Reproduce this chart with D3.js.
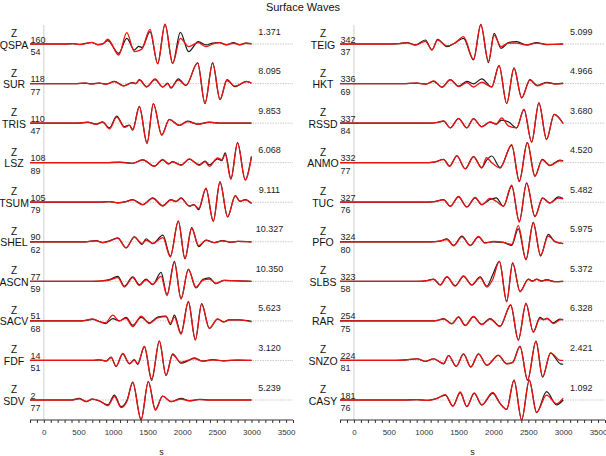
<!DOCTYPE html>
<html><head><meta charset="utf-8">
<script src="https://cdn.jsdelivr.net/npm/d3@7"></script>
<style>body{margin:0;background:#fff} svg{display:block} text{font-family:"Liberation Sans",Arial,Helvetica,sans-serif}</style>
</head><body><svg id="c" width="606" height="456"></svg>
<script>
// ---------- labels ----------
const title = "Surface Waves";
const component = "Z";
const leftStations  = ["QSPA","SUR","TRIS","LSZ","TSUM","SHEL","ASCN","SACV","FDF","SDV"];
const leftTop       = ["160","118","110","108","105","90","77","51","14","2"];
const leftBottom    = ["54","77","47","89","79","62","59","68","51","77"];
const leftRatio     = ["1.371","8.095","9.853","6.068","9.111","10.327","10.350","5.623","3.120","5.239"];
const rightStations = ["TEIG","HKT","RSSD","ANMO","TUC","PFO","SLBS","RAR","SNZO","CASY"];
const rightTop      = ["342","336","337","332","327","324","323","254","224","181"];
const rightBottom   = ["37","69","84","77","76","80","58","75","81","76"];
const rightRatio    = ["5.099","4.966","3.680","4.520","5.482","5.975","5.372","6.328","2.421","1.092"];
const xTickLabels   = [0,500,1000,1500,2000,2500,3000,3500];
const xAxisTitle    = "s";

// ---------- waveform extrema (time s, normalised amplitude) ----------
const QSPA_t     = [-200,300,420,520,600,690,780,860,924,1082,1198,1308,1370,1420,1534,1645,1751,1861,1972,2092,2232,2342,2440,2535,2640,2740,2830,2920,3000];
const QSPA_black = [0,0,0.02,-0.02,0.03,0.08,-0.03,0.03,0.18,-0.49,0.30,-0.32,-0.12,-0.18,0.65,-1.02,1.04,-1.02,0.61,-0.40,0.12,-0.05,0.05,0.07,-0.05,0.07,-0.05,0.05,0.02];
const QSPA_red   = [0,0,0.02,-0.03,0.02,0.09,-0.04,0.02,0.25,-0.58,0.60,-0.40,-0.35,-0.25,0.77,-1.05,1.04,-1.02,0.30,-0.14,0.07,-0.14,0.0,0.07,-0.03,0.04,-0.03,0.04,0.01];

const SUR_t     = [-200,450,600,700,800,900,1020,1150,1275,1330,1380,1486,1607,1717,1790,1837,1943,2054,2222,2328,2439,2545,2646,2760,2929,3000];
const SUR_black = [0,0,0.02,-0.02,0.03,-0.03,0.12,-0.12,0.05,0.0,0.21,-0.16,0.21,-0.18,0.02,-0.24,0.25,-0.10,1.09,-1.05,1.09,-0.84,0.21,-0.16,0.12,0.02];
const SUR_red   = [0,0,0.02,-0.02,0.02,-0.03,0.10,-0.12,0.04,0.0,0.18,-0.18,0.24,-0.18,0.0,-0.20,0.18,-0.10,1.09,-1.05,1.09,-0.84,0.16,-0.14,0.10,0.03];

const TRIS_t     = [-200,500,635,755,850,948,1053,1164,1236,1284,1380,1491,1582,1703,1813,1958,2078,2222,2391,2535,3000];
const TRIS_black = [0,0,0.05,-0.05,0.05,-0.25,0.37,-0.19,-0.10,-0.33,0.88,-1.04,1.02,-0.61,0.19,-0.12,0.10,-0.05,0.05,0,0];
const TRIS_red   = [0,0,0.04,-0.06,0.06,-0.30,0.32,-0.22,-0.12,-0.38,0.86,-1.08,1.02,-0.64,0.20,-0.12,0.08,-0.06,0.04,0,0];

const LSZ_t     = [-200,900,1100,1284,1429,1597,1717,1800,1861,1982,2102,2246,2330,2391,2511,2570,2621,2703,2799,2910,3000];
const LSZ_black = [0,0,0.03,-0.03,0.15,-0.18,0.15,-0.05,0.05,-0.12,0.18,-0.10,0.08,-0.12,0.20,0.10,0.52,-0.84,1.05,-0.90,0.33];
const LSZ_red   = [0,0,0.02,-0.04,0.16,-0.20,0.17,-0.07,0.04,-0.14,0.20,-0.14,0.06,-0.20,0.25,0.15,0.42,-0.88,1.03,-0.92,0.30];

const TSUM_t     = [-200,800,950,1070,1190,1284,1429,1573,1717,1837,1910,1982,2102,2170,2237,2342,2448,2545,2655,2766,2833,2910,3000];
const TSUM_black = [0,0,0.03,-0.03,0.04,0.14,-0.12,0.23,-0.18,0.14,0.05,0.23,-0.21,-0.12,-0.39,0.72,-1.0,1.07,-0.77,0.35,0.05,0.14,-0.07];
const TSUM_red   = [0,0,0.03,-0.03,0.03,0.12,-0.14,0.20,-0.20,0.12,0.03,0.20,-0.18,-0.14,-0.33,0.74,-1.0,1.07,-0.77,0.33,0.05,0.12,-0.05];

const SHEL_t     = [-200,600,755,850,948,1068,1188,1308,1419,1477,1573,1720,1828,1943,2039,2136,2237,2342,2463,2583,2700,2800,3000];
const SHEL_black = [0,0,0.06,-0.04,0.05,0.21,-0.32,0.26,-0.14,0.16,-0.10,0.35,-0.75,1.09,-0.89,0.74,-0.26,0.09,-0.05,0.06,-0.03,0.02,0];
const SHEL_red   = [0,0,0.05,-0.04,0.04,0.18,-0.32,0.24,-0.10,0.08,-0.08,0.22,-0.80,1.09,-0.89,0.70,-0.20,0.07,-0.04,0.05,-0.02,0.02,0];

const ASCN_t     = [-200,700,850,948,1068,1164,1284,1380,1477,1573,1693,1780,1886,1982,2088,2198,2294,2391,2487,2600,2750,3000];
const ASCN_black = [0,0,0.03,0.09,0.26,-0.26,0.23,-0.18,0.12,-0.18,0.47,-0.70,1.05,-0.91,0.65,-0.35,0.09,0.18,-0.12,0.05,0.03,0];
const ASCN_red   = [0,0,0.02,0.06,0.20,-0.30,0.20,-0.22,0.08,-0.15,0.26,-0.75,1.00,-0.93,0.62,-0.30,0.05,0.12,-0.10,0.05,0.03,0];

const SACV_t     = [-200,550,707,800,890,996,1090,1188,1284,1405,1525,1645,1765,1830,1886,1982,2088,2189,2280,2391,2511,2600,2679,2824,3000];
const SACV_black = [0,0,0.08,-0.03,-0.14,0.12,0.0,0.18,-0.23,0.18,-0.10,0.20,0.25,-0.20,0.30,-0.65,1.0,-1.0,0.91,-0.40,0.10,-0.05,0.05,0.05,-0.03];
const SACV_red   = [0,0,0.10,-0.04,-0.10,0.30,0.0,0.14,-0.30,0.25,-0.14,0.16,0.22,-0.12,0.20,-0.70,1.02,-1.0,0.88,-0.38,0.10,-0.05,0.06,0.05,-0.05];

const FDF_t     = [-200,700,800,900,972,1044,1140,1236,1308,1356,1453,1558,1669,1765,1861,1982,2078,2174,2294,2439,2600,2800,3000];
const FDF_black = [0,0,0.03,-0.03,0.18,-0.32,0.35,-0.18,0.04,-0.21,0.74,-1.05,1.02,-0.79,0.35,-0.14,-0.03,0.14,-0.04,0.04,-0.02,0.02,0];
const FDF_red   = [0,0,0.03,-0.03,0.15,-0.30,0.37,-0.16,0.0,-0.16,0.72,-0.97,1.02,-0.79,0.30,-0.10,0.0,0.10,-0.04,0.03,-0.02,0.02,0];

const SDV_t     = [-200,400,515,611,700,803,924,1020,1116,1203,1284,1405,1510,1611,1717,1837,1982,2102,2250,2400,3000];
const SDV_black = [0,0,0.09,-0.09,0.05,-0.05,-0.26,0.26,-0.35,0.0,0.91,-1.02,0.96,-0.49,0.21,-0.09,0.09,-0.05,0.04,0,0];
const SDV_red   = [0,0,0.06,-0.07,0.04,-0.04,-0.30,0.18,-0.40,-0.05,0.95,-1.05,0.98,-0.55,0.20,-0.08,0.05,-0.03,0.02,0,0];

const TEIG_t     = [-200,500,650,762,881,1024,1119,1200,1333,1452,1571,1714,1819,1929,2010,2110,2214,2333,2476,2619,2762,3000];
const TEIG_black = [0,0,0.02,0.07,-0.05,0.21,-0.32,0.25,-0.14,0.07,0.30,-0.84,1.04,-0.98,0.56,-0.23,0.07,0.12,-0.05,0.07,-0.03,0];
const TEIG_red   = [0,0,0.02,0.06,-0.06,0.14,-0.30,0.20,-0.10,0.05,0.39,-0.80,1.00,-0.90,0.45,-0.14,0.05,0.05,-0.05,0.05,-0.02,0];

const HKT_t     = [-200,700,900,1030,1143,1262,1381,1500,1619,1714,1833,1976,2081,2190,2295,2405,2524,2629,2762,2900,3000];
const HKT_black = [0,0,0.02,-0.03,0.12,-0.18,0.21,-0.14,0.12,-0.02,0.25,-0.18,0.95,-1.05,0.82,-0.75,0.21,-0.10,0.07,-0.02,0.02];
const HKT_red   = [0,0,0.02,-0.03,0.14,-0.20,0.20,-0.16,0.05,-0.18,0.07,-0.18,0.95,-1.05,0.82,-0.75,0.18,-0.12,0.04,-0.02,0.0];

const RSSD_t     = [-200,1100,1200,1286,1381,1500,1619,1714,1833,1952,2040,2119,2214,2333,2438,2548,2652,2762,2871,3000];
const RSSD_black = [0,0,0.04,0.10,-0.25,0.23,-0.25,0.23,-0.19,0.05,-0.05,0.16,0.07,-0.25,0.72,-1.0,1.07,-0.86,0.46,-0.02];
const RSSD_red   = [0,0,0.04,0.12,-0.25,0.25,-0.25,0.23,-0.20,0.07,-0.05,0.28,-0.15,-0.25,0.72,-1.0,1.07,-0.86,0.46,-0.02];

const ANMO_t     = [-200,1000,1150,1286,1371,1476,1595,1714,1833,1900,1976,2095,2262,2371,2486,2595,2700,2810,2952,3000];
const ANMO_black = [0,0,0.03,0.18,-0.18,0.35,-0.32,0.32,-0.26,0.12,0.35,-0.26,0.91,-0.96,1.05,-0.70,0.18,-0.14,0.14,0.10];
const ANMO_red   = [0,0,0.03,0.16,-0.20,0.37,-0.33,0.30,-0.28,0.26,0.0,-0.28,0.95,-1.0,1.05,-0.72,0.15,-0.16,0.10,0.08];

const TUC_t     = [-200,1000,1150,1286,1381,1500,1619,1738,1833,1952,2040,2143,2262,2371,2476,2595,2705,2810,2933,3000];
const TUC_black = [0,0,0.03,0.14,-0.21,0.28,-0.25,0.23,-0.12,0.14,0.23,-0.21,0.84,-1.0,1.0,-0.74,0.23,-0.04,0.28,0.20];
const TUC_red   = [0,0,0.03,0.12,-0.21,0.30,-0.25,0.25,-0.14,0.20,0.05,-0.21,0.90,-1.05,1.02,-0.76,0.20,-0.05,0.22,0.18];

const PFO_t     = [-200,1100,1230,1333,1429,1548,1667,1786,1881,2000,2143,2262,2357,2467,2571,2676,2786,2881,3000];
const PFO_black = [0,0,0.03,0.16,-0.19,0.30,-0.19,0.26,-0.05,0.0,-0.03,-0.19,0.68,-0.93,1.02,-0.75,0.39,0.0,-0.09];
const PFO_red   = [0,0,0.03,0.12,-0.21,0.26,-0.20,0.28,-0.07,0.02,-0.03,-0.14,0.85,-0.95,1.00,-0.70,0.30,0.02,-0.10];

const SLBS_t     = [-200,900,1040,1143,1238,1333,1452,1571,1690,1810,1905,1990,2086,2190,2276,2381,2500,2560,2619,2690,2762,2880,3000];
const SLBS_black = [0,0,0.03,0.12,-0.18,0.23,-0.23,0.26,-0.18,0.23,-0.26,0.35,1.05,-1.05,0.96,-0.53,0.12,0.02,0.12,0.02,0.09,-0.02,0];
const SLBS_red   = [0,0,0.03,0.10,-0.20,0.25,-0.25,0.28,-0.20,0.20,-0.30,0.10,1.05,-1.08,0.98,-0.55,0.10,0.0,0.10,0.0,0.07,-0.02,0];

const RAR_t     = [-200,1100,1200,1286,1405,1500,1595,1714,1833,1952,2095,2248,2357,2467,2571,2667,2720,2771,2857,2952,3000];
const RAR_black = [0,0,0.03,0.12,-0.14,0.21,-0.23,0.21,-0.18,0.12,-0.28,0.82,-1.0,0.91,-0.58,0.18,0.08,0.12,-0.10,0.09,0.05];
const RAR_red   = [0,0,0.03,0.10,-0.16,0.20,-0.25,0.23,-0.20,0.10,-0.30,0.85,-1.02,0.93,-0.60,0.12,0.05,0.14,-0.14,0.05,0.08];

const SNZO_t     = [-200,600,750,905,1024,1143,1286,1357,1467,1571,1676,1786,1905,2071,2190,2276,2381,2490,2610,2705,2819,2962,3000];
const SNZO_black = [0,0,0.03,0.09,-0.05,0.09,-0.18,0.26,-0.32,0.35,-0.35,0.35,-0.26,0.26,-0.18,-0.09,0.74,-1.05,1.02,-0.88,0.39,-0.18,-0.20];
const SNZO_red   = [0,0,0.03,0.08,-0.05,0.08,-0.16,0.25,-0.30,0.33,-0.33,0.35,-0.26,0.28,-0.16,-0.12,0.74,-1.02,1.00,-0.85,0.40,0.0,0.0];

const CASY_t     = [-200,700,900,1050,1190,1310,1419,1524,1619,1724,1833,1990,2095,2190,2295,2405,2514,2619,2762,2905,3000];
const CASY_black = [0,0,0.02,-0.02,0.09,0.26,-0.32,0.39,-0.35,0.35,-0.26,0.35,-0.18,-0.49,1.05,-1.05,1.05,-0.67,0.44,-0.26,0.0];
const CASY_red   = [0,0,0.02,-0.02,0.07,0.28,-0.32,0.42,-0.35,0.38,-0.25,0.40,-0.18,-0.49,1.05,-1.05,1.05,-0.65,0.26,-0.20,0.10];

// table built from the arrays above
const traces = {
  QSPA:[QSPA_t,QSPA_black,QSPA_red], SUR:[SUR_t,SUR_black,SUR_red], TRIS:[TRIS_t,TRIS_black,TRIS_red],
  LSZ:[LSZ_t,LSZ_black,LSZ_red], TSUM:[TSUM_t,TSUM_black,TSUM_red], SHEL:[SHEL_t,SHEL_black,SHEL_red],
  ASCN:[ASCN_t,ASCN_black,ASCN_red], SACV:[SACV_t,SACV_black,SACV_red], FDF:[FDF_t,FDF_black,FDF_red],
  SDV:[SDV_t,SDV_black,SDV_red], TEIG:[TEIG_t,TEIG_black,TEIG_red], HKT:[HKT_t,HKT_black,HKT_red],
  RSSD:[RSSD_t,RSSD_black,RSSD_red], ANMO:[ANMO_t,ANMO_black,ANMO_red], TUC:[TUC_t,TUC_black,TUC_red],
  PFO:[PFO_t,PFO_black,PFO_red], SLBS:[SLBS_t,SLBS_black,SLBS_red], RAR:[RAR_t,RAR_black,RAR_red],
  SNZO:[SNZO_t,SNZO_black,SNZO_red], CASY:[CASY_t,CASY_black,CASY_red]
};

// ---------- drawing ----------
const svg = d3.select("#c");
svg.append("text").attr("x",303).attr("y",11).attr("text-anchor","middle")
  .attr("font-size",11).attr("fill","#111").text(title);

const panels = [
  {stations:leftStations, top:leftTop, bottom:leftBottom, ratio:leftRatio, range:[30,293], labelX:14},
  {stations:rightStations, top:rightTop, bottom:rightBottom, ratio:rightRatio, range:[340,605], labelX:323}
];
const ampPx = 19;

panels.forEach(p => {
  const x = d3.scaleLinear().domain([-200,3600]).range(p.range);
  const yBand = d3.scalePoint().domain(p.stations).range([44,400]);
  const g = svg.append("g");

  // vertical zero line
  g.append("line").attr("x1",x(0)).attr("x2",x(0)).attr("y1",25).attr("y2",420)
    .attr("stroke","#cfcfcf").attr("stroke-width",1);

  p.stations.forEach((st,i) => {
    const y0 = yBand(st);
    const y = d3.scaleLinear().domain([-1,1]).range([y0+ampPx, y0-ampPx]);
    // baseline
    g.append("line").attr("x1",x(-200)).attr("x2",x(3600)).attr("y1",y0).attr("y2",y0)
      .attr("stroke","#bdbdbd").attr("stroke-width",0.8).attr("stroke-dasharray","1.5,1");
    const [tt, bk, rd] = traces[st];
    const line = vals => d3.line().x((d,j)=>x(tt[j])).y(d=>y(d)).curve(d3.curveMonotoneX)(vals);
    g.append("path").attr("d",line(bk)).attr("fill","none").attr("stroke","#1a1a1a").attr("stroke-width",1.2);
    g.append("path").attr("d",line(rd)).attr("fill","none").attr("stroke","#ee1111").attr("stroke-width",1.3);

    // labels
    g.append("text").attr("x",p.labelX).attr("y",y0-7).attr("text-anchor","middle")
      .attr("font-size",10).attr("fill","#111").text(component);
    g.append("text").attr("x",Math.max(p.labelX, 0)).attr("y",y0+4.5).attr("text-anchor","middle")
      .attr("font-size",10.5).attr("fill","#111").text(st);
    g.append("text").attr("x",x(-200)+0.5).attr("y",y0-1.5).attr("font-size",9).attr("fill","#222").text(p.top[i]);
    g.append("text").attr("x",x(-200)+0.5).attr("y",y0+11).attr("font-size",9).attr("fill","#222").text(p.bottom[i]);
    g.append("text").attr("x",x(3260)).attr("y",y0-9.5).attr("text-anchor","middle")
      .attr("font-size",9).attr("fill","#222").text(p.ratio[i]);
  });

  // x axis
  const axis = d3.axisBottom(x).tickValues(d3.range(-200,3601,100))
    .tickSize(3).tickPadding(6)
    .tickFormat(d => xTickLabels.includes(d) ? d : "");
  const ax = svg.append("g").attr("transform","translate(0,420)").call(axis);
  ax.select(".domain").attr("stroke","#333").attr("d", `M${x(-200)},0H${x(3600)}`);
  ax.selectAll(".tick line").attr("stroke","#333");
  ax.selectAll(".tick text").attr("font-size",8).attr("fill","#333")
    .attr("font-family","'Liberation Sans',Arial,sans-serif");
  svg.append("text").attr("x",x(1700)).attr("y",455).attr("text-anchor","middle")
    .attr("font-size",9).attr("fill","#222").text(xAxisTitle);
});
</script></body></html>
